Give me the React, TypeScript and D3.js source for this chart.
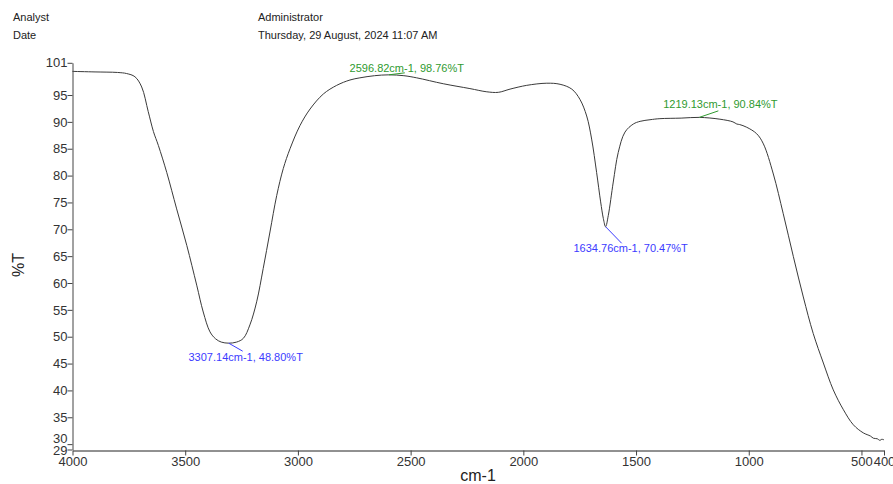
import React, { useEffect, useRef } from 'react';
import * as d3 from 'd3';

// spectrum (wavenumber cm-1, %T)
const wavenumbers = [
  4000, 3900, 3800, 3760, 3723, 3693, 3664, 3641, 3619, 3582, 3538, 3493, 3449, 3420, 3390, 3365,
  3340, 3307, 3272, 3242, 3213, 3183, 3154, 3124, 3094, 3065, 3035, 2991, 2946, 2887, 2828, 2769,
  2725, 2660, 2597, 2530, 2473, 2355, 2237, 2162, 2111, 2059, 1985, 1896, 1837, 1785, 1749, 1719,
  1697, 1675, 1657, 1645, 1635, 1623, 1601, 1579, 1549, 1512, 1482, 1438, 1394, 1300, 1219, 1128,
  1070, 1053, 1040, 1009, 965, 935, 891, 847, 802, 758, 714, 669, 625, 580, 536, 492, 460, 447, 430,
  418, 410, 400,
];
const transmittance = [
  99.4, 99.3, 99.2, 99.0, 98.4, 96.5, 91.9, 88.2, 85.6, 80.6, 73.8, 67.0, 59.6, 54.6, 50.9, 49.6,
  49.0, 48.8, 49.0, 49.7, 52.2, 56.5, 62.7, 69.5, 76.3, 81.3, 85.0, 89.3, 92.4, 95.2, 96.8, 97.8,
  98.2, 98.6, 98.76, 98.6, 98.2, 97.1, 96.2, 95.6, 95.5, 96.1, 96.8, 97.2, 97.0, 96.1, 94.2, 91.1,
  86.8, 80.6, 75.1, 72.0, 70.47, 72.6, 78.8, 84.3, 88.1, 89.6, 90.1, 90.4, 90.6, 90.7, 90.84, 90.5,
  90.0, 89.6, 89.5, 89.0, 87.8, 85.9, 80.3, 72.9, 64.9, 57.4, 50.6, 45.1, 40.1, 36.4, 33.6, 32.1,
  31.5, 31.1, 31.0, 30.7, 30.9, 30.8,
];

const xTicks = [4000, 3500, 3000, 2500, 2000, 1500, 1000, 500, 400];
const yTicks = [101, 95, 90, 85, 80, 75, 70, 65, 60, 55, 50, 45, 40, 35, 30, 29];

// peak labels
const peakWn = [2596.82, 1219.13, 3307.14, 1634.76];
const peakT = [98.76, 90.84, 48.8, 70.47];
const peakColor = ['#2f9a2f', '#2f9a2f', '#3b3bff', '#3b3bff'];
const leaderDx = [16, 19, 14, 16];
const leaderDy = [-2, -6.5, 8, 16.5];
const labelDx = [18, 21, 17, 25];
const labelDy = [-3, -9, 18, 25];

const App = () => {
  const svgRef = useRef<SVGSVGElement>(null);

  useEffect(() => {
    const svg = d3.select(svgRef.current);
    svg.selectAll('*').remove();

    const x = d3.scaleLinear().domain([4000, 400]).range([72.5, 884]);
    const y = d3.scaleLinear().domain([29, 101]).range([449.5, 62.8]);
    const font = 'Arial, "Liberation Sans", sans-serif';

    // header
    const header = [
      ['Analyst', 13, 21],
      ['Date', 13, 39],
      ['Administrator', 258, 21],
      ['Thursday, 29 August, 2024 11:07 AM', 258, 39],
    ];
    svg
      .selectAll('text.hdr')
      .data(header)
      .join('text')
      .attr('class', 'hdr')
      .attr('x', (d) => d[1] as number)
      .attr('y', (d) => d[2] as number)
      .attr('font-family', font)
      .attr('font-size', 11)
      .attr('fill', '#222')
      .text((d) => d[0] as string);

    // y axis
    const yAxis = svg
      .append('g')
      .attr('transform', 'translate(72.5,0)')
      .call(d3.axisLeft(y).tickValues(yTicks).tickSize(5).tickSizeOuter(0).tickFormat(d3.format('d')));
    yAxis.select('.domain').attr('stroke', '#444');
    yAxis.selectAll('line').attr('stroke', '#444');
    yAxis
      .selectAll('text')
      .attr('font-family', font)
      .attr('font-size', 13)
      .attr('fill', '#333')
      .attr('x', -5)
      .attr('dy', (d: any) => (d === 30 ? '-0.15em' : d === 29 ? '0.4em' : '0.32em'));

    // x axis
    const xAxis = svg
      .append('g')
      .attr('transform', `translate(0,${y(29) + 1})`)
      .call(d3.axisBottom(x).tickValues(xTicks).tickSize(5).tickSizeOuter(0).tickFormat(d3.format('d')));
    xAxis.select('.domain').attr('stroke', '#222');
    xAxis.selectAll('line').attr('stroke', '#444');
    xAxis
      .selectAll('text')
      .attr('font-family', font)
      .attr('font-size', 13)
      .attr('fill', '#333')
      .attr('y', 6);

    // axis titles
    svg
      .append('text')
      .attr('transform', 'translate(24,265) rotate(-90)')
      .attr('text-anchor', 'middle')
      .attr('font-family', font)
      .attr('font-size', 16)
      .attr('fill', '#222')
      .text('%T');
    svg
      .append('text')
      .attr('x', 478)
      .attr('y', 481)
      .attr('text-anchor', 'middle')
      .attr('font-family', font)
      .attr('font-size', 16)
      .attr('fill', '#222')
      .text('cm-1');

    // spectrum
    const line = d3
      .line<number>()
      .x((d) => x(d))
      .y((_, i) => y(transmittance[i]))
      .curve(d3.curveCatmullRom.alpha(0.5));
    svg
      .append('path')
      .datum(wavenumbers)
      .attr('d', line)
      .attr('fill', 'none')
      .attr('stroke', '#3a3a3a')
      .attr('stroke-width', 1);

    // peak annotations
    peakWn.forEach((wn, i) => {
      const px = x(wn);
      const py = y(peakT[i]);
      svg
        .append('line')
        .attr('x1', px)
        .attr('y1', py)
        .attr('x2', px + leaderDx[i])
        .attr('y2', py + leaderDy[i])
        .attr('stroke', peakColor[i])
        .attr('stroke-width', 1);
      svg
        .append('text')
        .attr('x', px + labelDx[i])
        .attr('y', py + labelDy[i])
        .attr('text-anchor', 'middle')
        .attr('font-family', font)
        .attr('font-size', 11)
        .attr('fill', peakColor[i])
        .text(`${wn.toFixed(2)}cm-1, ${peakT[i].toFixed(2)}%T`);
    });
  }, []);

  return (
    <svg
      ref={svgRef}
      width={893}
      height={484}
      style={{ position: 'absolute', left: 0, top: 0, background: '#fff' }}
    />
  );
};

export default App;
